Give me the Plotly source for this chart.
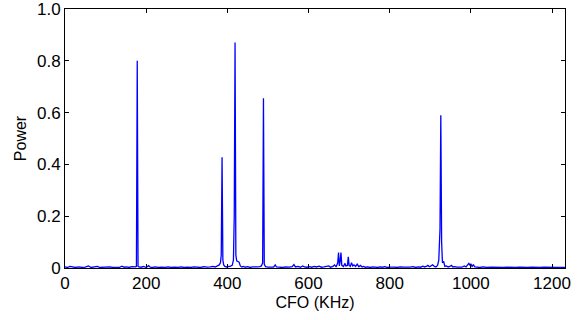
import plotly.graph_objects as go

cfo_khz = [0, 6, 12, 18, 26, 34, 42, 50, 58, 64, 72, 80, 86, 94, 102, 110, 118, 126, 134, 140, 146, 152, 158, 164, 170,
           174, 176, 178, 180, 182, 188, 194, 200, 206, 210, 216, 222, 230, 238, 246, 254, 262, 270, 278, 286, 294, 302,
           310, 318, 326, 334, 342, 350, 358, 364, 370, 376, 380, 383, 385, 387, 389, 391, 394, 398, 404, 408, 412, 415,
           417, 419, 421, 423, 426, 429, 432, 436, 440, 444, 450, 456, 462, 468, 474, 480, 484, 487, 489, 491, 494, 500,
           508, 514, 518, 521, 528, 536, 544, 552, 560, 564, 568, 574, 580, 586, 590, 596, 602, 608, 614, 620, 626, 632,
           638, 644, 650, 654, 660, 664, 668, 672, 674, 676, 678, 680, 682, 686, 690, 692, 696, 698, 700, 703, 706, 709,
           712, 716, 720, 724, 728, 732, 736, 740, 746, 752, 758, 764, 770, 776, 782, 788, 794, 800, 806, 812, 818, 826,
           834, 842, 850, 858, 864, 870, 876, 882, 886, 890, 894, 898, 902, 906, 910, 914, 918, 921, 924, 926, 928, 930,
           933, 936, 940, 944, 948, 952, 956, 960, 966, 972, 978, 984, 988, 992, 995, 998, 1000, 1003, 1006, 1010, 1016,
           1022, 1030, 1040, 1050, 1060, 1070, 1080, 1090, 1100, 1110, 1120, 1130, 1140, 1150, 1160, 1170, 1180, 1190,
           1200, 1210, 1220, 1232]

power = [0.004, 0.002, 0.006, 0.003, 0.002, 0.004, 0.002, 0.003, 0.008, 0.002, 0.003, 0.006, 0.002, 0.003, 0.002, 0.004,
         0.002, 0.003, 0.002, 0.007, 0.003, 0.004, 0.002, 0.005, 0.003,
         0.004, 0.006, 0.800, 0.006, 0.004, 0.003, 0.006, 0.002, 0.009, 0.003, 0.002, 0.004, 0.002, 0.003, 0.002, 0.004,
         0.002, 0.003, 0.002, 0.004, 0.002, 0.003,
         0.002, 0.004, 0.003, 0.002, 0.005, 0.003, 0.004, 0.006, 0.004, 0.008, 0.012, 0.020, 0.050, 0.428, 0.030, 0.012,
         0.006, 0.004, 0.005, 0.007, 0.010, 0.030,
         0.200, 0.871, 0.050, 0.028, 0.025, 0.022, 0.008, 0.004, 0.006, 0.003, 0.005, 0.002, 0.004, 0.003, 0.004, 0.005,
         0.008, 0.020, 0.655, 0.015, 0.005, 0.003,
         0.004, 0.003, 0.012, 0.004, 0.003, 0.002, 0.004, 0.003, 0.005, 0.013, 0.004, 0.006, 0.003, 0.008, 0.004, 0.003,
         0.005, 0.003, 0.006, 0.004, 0.007, 0.003,
         0.004, 0.005, 0.008, 0.003, 0.006, 0.012, 0.004, 0.020, 0.060, 0.008, 0.025, 0.060, 0.010, 0.006, 0.018, 0.008,
         0.010, 0.043, 0.010, 0.006, 0.020, 0.008,
         0.012, 0.006, 0.015, 0.005, 0.010, 0.004, 0.006, 0.003, 0.004, 0.002, 0.004, 0.003, 0.002, 0.004, 0.003, 0.005,
         0.002, 0.003, 0.004, 0.003, 0.002, 0.004,
         0.003, 0.002, 0.003, 0.005, 0.002, 0.004, 0.003, 0.007, 0.004, 0.006, 0.010, 0.005, 0.008, 0.012, 0.006, 0.004,
         0.010, 0.030, 0.150, 0.590, 0.100, 0.020,
         0.025, 0.006, 0.008, 0.004, 0.006, 0.010, 0.004, 0.005, 0.003, 0.004, 0.003, 0.008, 0.004, 0.012, 0.018, 0.010,
         0.016, 0.006, 0.012, 0.004, 0.003,
         0.002, 0.004, 0.002, 0.003, 0.002, 0.003, 0.002, 0.003, 0.002, 0.002, 0.003, 0.002, 0.002, 0.003, 0.002, 0.002,
         0.003, 0.002,
         0.002, 0.002, 0.002, 0.002]

x_ticks = [0, 200, 400, 600, 800, 1000, 1200]
y_ticks = [0, 0.2, 0.4, 0.6, 0.8, 1.0]
y_tick_labels = ["0", "0.2", "0.4", "0.6", "0.8", "1.0"]

fig = go.Figure()
fig.add_trace(go.Scatter(x=cfo_khz, y=power, mode="lines",
                         line=dict(color="#0000ff", width=1.3), showlegend=False))

font = dict(family="Liberation Sans, Arial, sans-serif", size=17, color="black")
axis_common = dict(showline=True, linecolor="black", linewidth=1, mirror="ticks",
                   ticks="inside", ticklen=4, tickcolor="black", showgrid=False,
                   zeroline=False, tickfont=font, automargin=False,
                   ticklabeloverflow="allow")

fig.update_layout(
    width=584, height=320,
    margin=dict(l=65, r=19, t=9, b=52),
    paper_bgcolor="white", plot_bgcolor="white",
    font=font,
    xaxis=dict(range=[0, 1232], tickvals=x_ticks, ticktext=[str(v) for v in x_ticks],
               title=dict(text="CFO (KHz)", font=dict(size=16), standoff=4), **axis_common),
    yaxis=dict(range=[0, 1.0], tickvals=y_ticks, ticktext=y_tick_labels,
               title=dict(text="Power", font=dict(size=16), standoff=6), **axis_common),
)

fig.write_html("out.html", config={"displayModeBar": False},
               post_script="document.body.style.margin='0';")
